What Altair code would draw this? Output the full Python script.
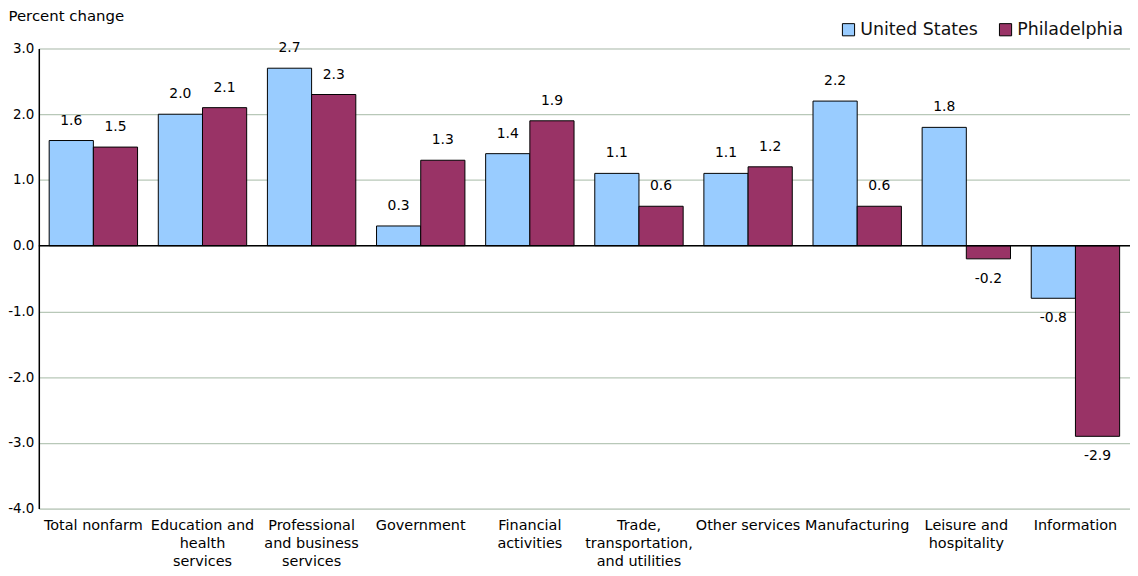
import altair as alt
import pandas as pd
import json

categories = [
    "Total nonfarm", "Education and health services", "Professional and business services",
    "Government", "Financial activities", "Trade, transportation, and utilities",
    "Other services", "Manufacturing", "Leisure and hospitality", "Information",
]
label_lines = {
    "Total nonfarm": ["Total nonfarm"],
    "Education and health services": ["Education and", "health", "services"],
    "Professional and business services": ["Professional", "and business", "services"],
    "Government": ["Government"],
    "Financial activities": ["Financial", "activities"],
    "Trade, transportation, and utilities": ["Trade,", "transportation,", "and utilities"],
    "Other services": ["Other services"],
    "Manufacturing": ["Manufacturing"],
    "Leisure and hospitality": ["Leisure and", "hospitality"],
    "Information": ["Information"],
}
series = ["United States", "Philadelphia"]
us_values = [1.6, 2.0, 2.7, 0.3, 1.4, 1.1, 1.1, 2.2, 1.8, -0.8]
phl_values = [1.5, 2.1, 2.3, 1.3, 1.9, 0.6, 1.2, 0.6, -0.2, -2.9]
y_ticks = [3, 2, 1, 0, -1, -2, -3, -4]
colors = ["#99ccff", "#993366"]

rows = []
for c, u, p in zip(categories, us_values, phl_values):
    rows.append({"category": c, "series": series[0], "value": u, "label": f"{u:.1f}"})
    rows.append({"category": c, "series": series[1], "value": p, "label": f"{p:.1f}"})
df = pd.DataFrame(rows)

FONT = "DejaVu Sans"
label_expr = json.dumps(label_lines) + "[datum.value]"

x_enc = alt.X(
    "category:N", sort=categories,
    scale=alt.Scale(paddingInner=0.19, paddingOuter=0.095),
    axis=alt.Axis(title=None, labelExpr=label_expr, labelAngle=0, domain=False, ticks=False,
                  labelFont=FONT, labelFontSize=14.5, labelLineHeight=18, labelPadding=10,
                  labelColor="#000000", labelLimit=400, labelOverlap=False, labelBound=False),
)
y_scale = alt.Scale(domain=[-4, 3], nice=False, zero=False)
xoff = alt.XOffset("series:N", sort=series, scale=alt.Scale(domain=series, paddingInner=0, paddingOuter=0))

bars = alt.Chart(df).mark_bar(stroke="#000000", strokeWidth=1).encode(
    x=x_enc,
    xOffset=xoff,
    y=alt.Y("value:Q", scale=y_scale,
            axis=alt.Axis(values=y_ticks, format=".1f",
                          labelExpr="replace(datum.label, '\u2212', '-')",
                          title="Percent change", titleAngle=0, titleAlign="left",
                          titleBaseline="middle", titleX=-31, titleY=-33,
                          titleFont=FONT, titleFontSize=15, titleFontWeight="normal",
                          titleColor="#000000",
                          labelFont=FONT, labelFontSize=13.5, labelColor="#000000",
                          labelPadding=5, ticks=False, domain=True, domainColor="#000000",
                          domainWidth=1.5, grid=True, gridColor="#b8c8b8", gridWidth=1.2)),
    y2=alt.datum(0),
    color=alt.Color("series:N", sort=series, scale=alt.Scale(domain=series, range=colors),
                    legend=alt.Legend(title=None, orient="none", legendX=806, legendY=-28,
                                      direction="horizontal", symbolType="square",
                                      symbolSize=150, symbolStrokeColor="#000000",
                                      symbolStrokeWidth=1, labelFont=FONT, labelFontSize=17.5,
                                      labelColor="#111111", labelOffset=3, columnPadding=18,
                                      padding=0)),
)

text_base = alt.Chart(df).encode(
    x=alt.X("category:N", sort=categories),
    xOffset=xoff,
    y=alt.Y("value:Q", scale=y_scale),
    text="label:N",
)
texts_pos = text_base.transform_filter("datum.value >= 0").mark_text(
    font=FONT, fontSize=14, color="#000000", baseline="middle", dy=-20)
texts_neg = text_base.transform_filter("datum.value < 0").mark_text(
    font=FONT, fontSize=14, color="#000000", baseline="middle", dy=20)

zero = alt.Chart(pd.DataFrame({"z": [0]})).mark_rule(color="#000000", strokeWidth=1.5).encode(
    y=alt.Y("z:Q", scale=y_scale)
)

chart = alt.layer(bars, zero, texts_pos, texts_neg).properties(
    width=1098, height=463,
    autosize=alt.AutoSizeParams(type="none"),
    padding={"left": 31, "top": 39, "right": 0, "bottom": 58},
).configure_view(stroke=None).configure(background="#ffffff")

chart.save("out.html", embed_options={"renderer": "svg", "actions": False})
